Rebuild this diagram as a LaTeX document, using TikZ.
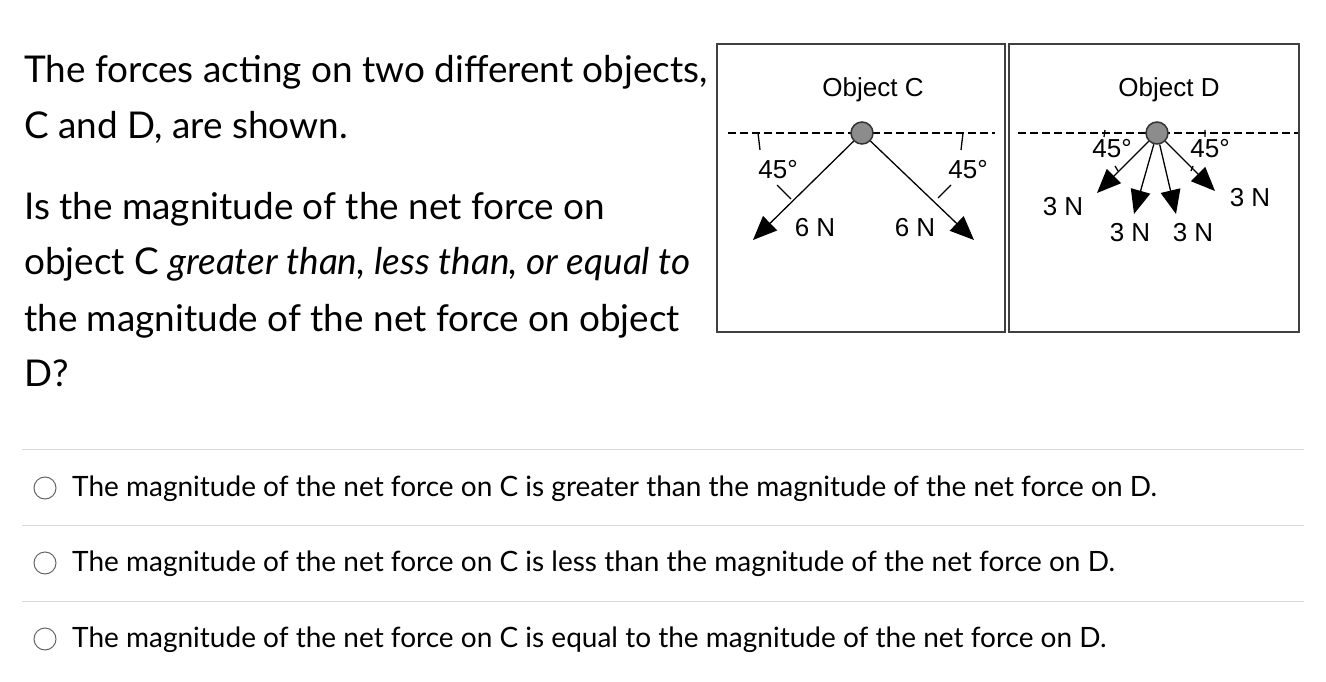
\documentclass[tikz,border=0pt]{standalone}
\usepackage{fontspec}
\setmainfont{Lato}
\newfontfamily\diag{Liberation Sans}
\usetikzlibrary{arrows.meta}
\begin{document}
\begin{tikzpicture}[x=1pt,y=-1pt,
  q/.style={anchor=base west,inner sep=0,font=\fontsize{36.9}{40}\selectfont},
  opt/.style={anchor=base west,inner sep=0,font=\fontsize{28}{32}\selectfont},
  lab/.style={inner sep=0,font=\diag\fontsize{26}{30}\selectfont},
  force/.style={draw=black,line width=1.3pt,-{Triangle[length=24pt,width=20pt]}},
  tick/.style={draw=black,line width=1.3pt},
  ball/.style={circle,minimum size=22pt,inner sep=0,draw=black!80,fill=black!45,line width=1.5pt},
  sep/.style={draw=black!15,line width=1pt},
  radio/.style={circle,minimum size=22pt,inner sep=0,draw=black!60,line width=1pt}]
\useasboundingbox (0,0) rectangle (1326,682);
\node[q] (t1) at (24,83) {The forces acting on two different objects,};
\node[q] (t2) at (24,139) {C and D, are shown.};
\node[q] (t3) at (24,219) {Is the magnitude of the net force on};
\node[q] (t4) at (24,274) {object C \textit{greater than, less than, or equal to}};
\node[q] (t5) at (24,331) {the magnitude of the net force on object};
\node[q] (t6) at (24,386) {D?};
% boxes
\draw[line width=2pt,black!75] (717,44) rectangle (1005,332);
\draw[line width=2pt,black!75] (1009,44) rectangle (1299,332);
\node[lab] (oc) at (873,90) {Object C};
\node[lab] (od) at (1169,90) {Object D};
\draw[line width=2pt,dash pattern=on 8pt off 4pt] (728,133) -- (995,133);
\draw[line width=2pt,dash pattern=on 8pt off 4pt] (1018,133) -- (1298,133);
\node[ball] (bc) at (862,133) {};
\node[ball] (bd) at (1157,133) {};
\coordinate (c1) at (753,240); \coordinate (c2) at (974,240);
\draw[force] (bc) -- (c1);
\draw[force] (bc) -- (c2);
\draw[tick] (758,133) -- (760,150) (777,185) -- (791,199);
\draw[tick] (963,133) -- (961,150) (951,185) -- (938,198);
\node[lab] (a1) at (778,170) {45°};
\node[lab] (a2) at (968,170) {45°};
\node[lab] (f1) at (815,228) {6 N};
\node[lab] (f2) at (915,228) {6 N};
\coordinate (d1) at (1097,193); \coordinate (d2) at (1134,214);
\coordinate (d3) at (1176,214); \coordinate (d4) at (1215,191);
\draw[force] (bd) -- (d1);
\draw[force] (bd) -- (d2);
\draw[force] (bd) -- (d3);
\draw[force] (bd) -- (d4);
\draw[tick] (1105,130) -- (1104,137) (1115,166) -- (1118,171);
\draw[tick] (1205,130) -- (1205,137) (1193,166) -- (1191,171);
\node[lab] (a3) at (1112,149) {45°};
\node[lab] (a4) at (1210,149) {45°};
\node[lab] (g1) at (1063,207) {3 N};
\node[lab] (g2) at (1130,233) {3 N};
\node[lab] (g3) at (1193,233) {3 N};
\node[lab] (g4) at (1250,198) {3 N};
% options
\draw[sep] (22,449) -- (1304,449);
\draw[sep] (22,525) -- (1304,525);
\draw[sep] (22,601) -- (1304,601);
\node[radio] (r1) at (45,488) {};
\node[radio] (r2) at (45,563) {};
\node[radio] (r3) at (45,639) {};
\node[opt] (o1) at (72,496) {The magnitude of the net force on C is greater than the magnitude of the net force on D.};
\node[opt] (o2) at (72,571) {The magnitude of the net force on C is less than the magnitude of the net force on D.};
\node[opt] (o3) at (72,647) {The magnitude of the net force on C is equal to the magnitude of the net force on D.};
\end{tikzpicture}
\end{document}
